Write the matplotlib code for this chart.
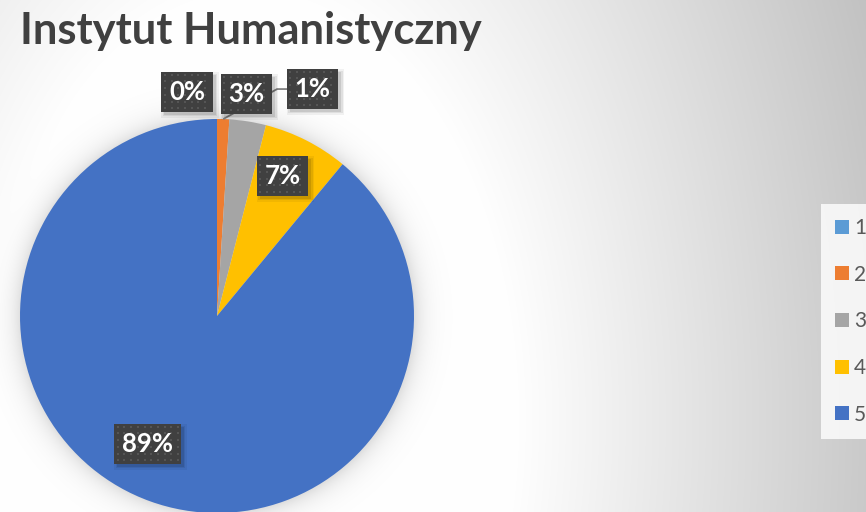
import numpy as np
import matplotlib
matplotlib.use("Agg")
import matplotlib.pyplot as plt
from matplotlib.patches import Patch, Rectangle
from matplotlib.transforms import IdentityTransform

# ---- data ----
categories = ["1", "2", "3", "4", "5"]
values = [0, 1, 3, 7, 89]
pct_labels = ["0%", "1%", "3%", "7%", "89%"]
colors = ["#5B9BD5", "#ED7D31", "#A5A5A5", "#FFC000", "#4472C4"]
title = "Instytut Humanistyczny"

W, H, DPI = 866, 512, 100
fig = plt.figure(figsize=(W / DPI, H / DPI), dpi=DPI)

# pie geometry in pixels
CX, CY, R = 217, 316, 197

# ---- background: radial grey gradient + soft pie shadow ----
bg_ax = fig.add_axes([0, 0, 1, 1], zorder=0)
yy, xx = np.mgrid[0:H, 0:W]
dx = xx - 250.0
dy = (yy - 420.0) / 1.6
d = np.sqrt(dx ** 2 + dy ** 2)
g = 255 - 0.150 * np.clip(d - 262, 0, None)
dp = np.sqrt((xx - CX) ** 2 + (yy - CY) ** 2)
shadow = 32 * np.exp(-np.clip(dp - R, 0, None) / 11.0)
g = g - shadow
g = np.clip(g, 0, 255) / 255.0
bg_ax.imshow(np.dstack([g, g, g]), extent=(0, W, H, 0), aspect="auto",
             interpolation="bilinear")
bg_ax.set_xlim(0, W)
bg_ax.set_ylim(H, 0)
bg_ax.axis("off")

# ---- pie ----
ax = fig.add_axes([(CX - R) / W, (H - CY - R) / H, 2 * R / W, 2 * R / H], zorder=2)
ax.set_facecolor("none")
wedges, _ = ax.pie(values, colors=colors, startangle=90, counterclock=False,
                   radius=1.0, wedgeprops=dict(linewidth=0))
ax.set_xlim(-1, 1)
ax.set_ylim(-1, 1)
ax.set_aspect("equal")
ax.axis("off")

# label positions (layout, in axes data units)
label_pos = {
    0: (-0.152, 1.137),
    1: (0.485, 1.152),
    2: (0.150, 1.127),
    3: (0.332, 0.711),
    4: (-0.353, -0.650),
}

# leader line for slice "2" (1%)
theta = np.deg2rad(90 - 360 * (values[0] + values[1] / 2) / sum(values))
wx, wy = np.cos(theta), np.sin(theta)
lx, ly = label_pos[1]
ax.plot([lx - 0.125, lx - 0.18, wx], [ly, ly, wy], color="#808080", lw=1.3,
        zorder=3, clip_on=False, solid_capstyle="butt")

lab_font = dict(family=["Lato", "DejaVu Sans"], fontsize=18.5, fontweight="bold")
box = dict(boxstyle="square,pad=0.3", fc="#404040", ec="none", lw=0)
label_texts = []
for i, (x, y) in label_pos.items():
    t = ax.text(x, y, pct_labels[i], ha="center", va="center", color="white",
                bbox=box, zorder=5, clip_on=False, **lab_font)
    label_texts.append(t)

# ---- title ----
fig.text(20 / W, (H - 44) / H, title, ha="left", va="baseline", color="#404040",
         family=["Lato", "DejaVu Sans"], fontsize=31.3, fontweight="bold", zorder=6)

# ---- legend ----
handles = [Patch(facecolor=c, edgecolor="none") for c in colors]
leg = fig.legend(handles, categories, loc="upper left",
                 bbox_to_anchor=(821 / W, (H - 204) / H), frameon=True,
                 fancybox=False, borderaxespad=0, borderpad=0.67,
                 handlelength=0.67, handleheight=0.67, handletextpad=0.25,
                 labelspacing=1.28, prop=dict(family=["Lato", "DejaVu Sans"], size=15))
leg.get_frame().set_facecolor((1, 1, 1, 0.25))
leg.get_frame().set_edgecolor("none")
for t in leg.get_texts():
    t.set_color("#595959")
leg.set_zorder(6)

# label boxes: shadow, fill and dotted texture drawn beneath the text
fig.canvas.draw()
renderer = fig.canvas.get_renderer()
ident = IdentityTransform()
for t in label_texts:
    bp = t.get_bbox_patch()
    bb = bp.get_window_extent(renderer)
    bp.set_visible(False)
    for grow, a in [(3.0, 0.05), (1.5, 0.07), (0.0, 0.10)]:
        ax.add_patch(Rectangle((bb.x0 + 3 - grow, bb.y0 - 3 - grow),
                               bb.width + 2 * grow, bb.height + 2 * grow,
                               transform=ident, facecolor="black",
                               edgecolor="none", alpha=a, zorder=4, clip_on=False))
    ax.add_patch(Rectangle((bb.x0, bb.y0), bb.width, bb.height, transform=ident,
                           facecolor="#404040", edgecolor="none", zorder=4.5,
                           clip_on=False))
    gx = np.arange(bb.x0 + 3.5, bb.x1 - 2, 6.7)
    gy = np.arange(bb.y0 + 3.5, bb.y1 - 2, 6.7)
    px, py = np.meshgrid(gx, gy)
    ax.scatter(px.ravel(), py.ravel(), s=1.2, marker="s", c="#555555",
               linewidths=0, transform=ident, zorder=4.7, clip_on=False)

fig.savefig("out.png", dpi=DPI)
